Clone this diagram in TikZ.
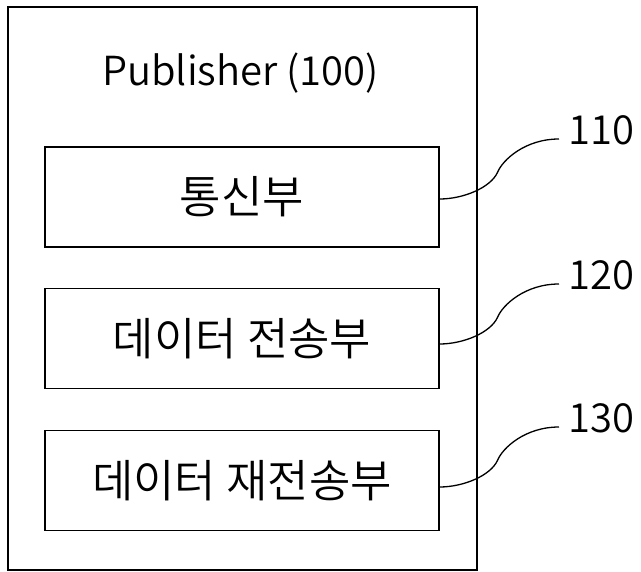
\documentclass[tikz,border=0pt]{standalone}
\usepackage{fontspec}
\setmainfont{Noto Sans CJK KR DemiLight}
\usetikzlibrary{positioning}

\tikzset{
  unit/.style={draw,rectangle,line width=1.4pt,minimum width=394pt,minimum height=100pt,
    inner sep=0pt,font=\fontsize{45}{52}\selectfont},
  refnum/.style={anchor=west,inner sep=0pt,font=\fontsize{40}{48}\selectfont},
  leader/.style={line width=1.3pt}
}

\begin{document}
\begin{tikzpicture}[x=1pt,y=-1pt]
  \useasboundingbox (0,0) rectangle (641,572);

  % Publisher frame
  \node[draw,rectangle,line width=1.4pt,minimum width=469pt,minimum height=563pt,inner sep=0pt]
    (pub) at (242.5,288.5) {};
  \node[font=\fontsize{40}{48}\selectfont] (pubname) at (240.5,73) {Publisher (100)};

  % Units inside the publisher
  \node[unit] (comm) at (242,197) {통신부};
  \node[unit,below=40pt of comm] (send) {데이터 전송부};
  \node[unit,below=41pt of send] (resend) {데이터 재전송부};

  % Reference numbers
  \node[refnum] (r110) at (568,130) {110};
  \node[refnum] (r120) at (568,275) {120};
  \node[refnum] (r130) at (568,418) {130};

  \coordinate (c110) at (559,139);
  \coordinate (c120) at (559,284);
  \coordinate (c130) at (559,427);

  \draw[leader] (comm.east |- 0,199) .. controls +(23,0) and +(-7,16) .. +(58,-27)
    .. controls +(5,-12) and +(-34,0) .. (c110);
  \draw[leader] (send.east |- 0,344) .. controls +(23,0) and +(-7,16) .. +(58,-27)
    .. controls +(5,-12) and +(-34,0) .. (c120);
  \draw[leader] (resend.east |- 0,487) .. controls +(23,0) and +(-7,16) .. +(58,-27)
    .. controls +(5,-12) and +(-34,0) .. (c130);

\end{tikzpicture}
\end{document}
